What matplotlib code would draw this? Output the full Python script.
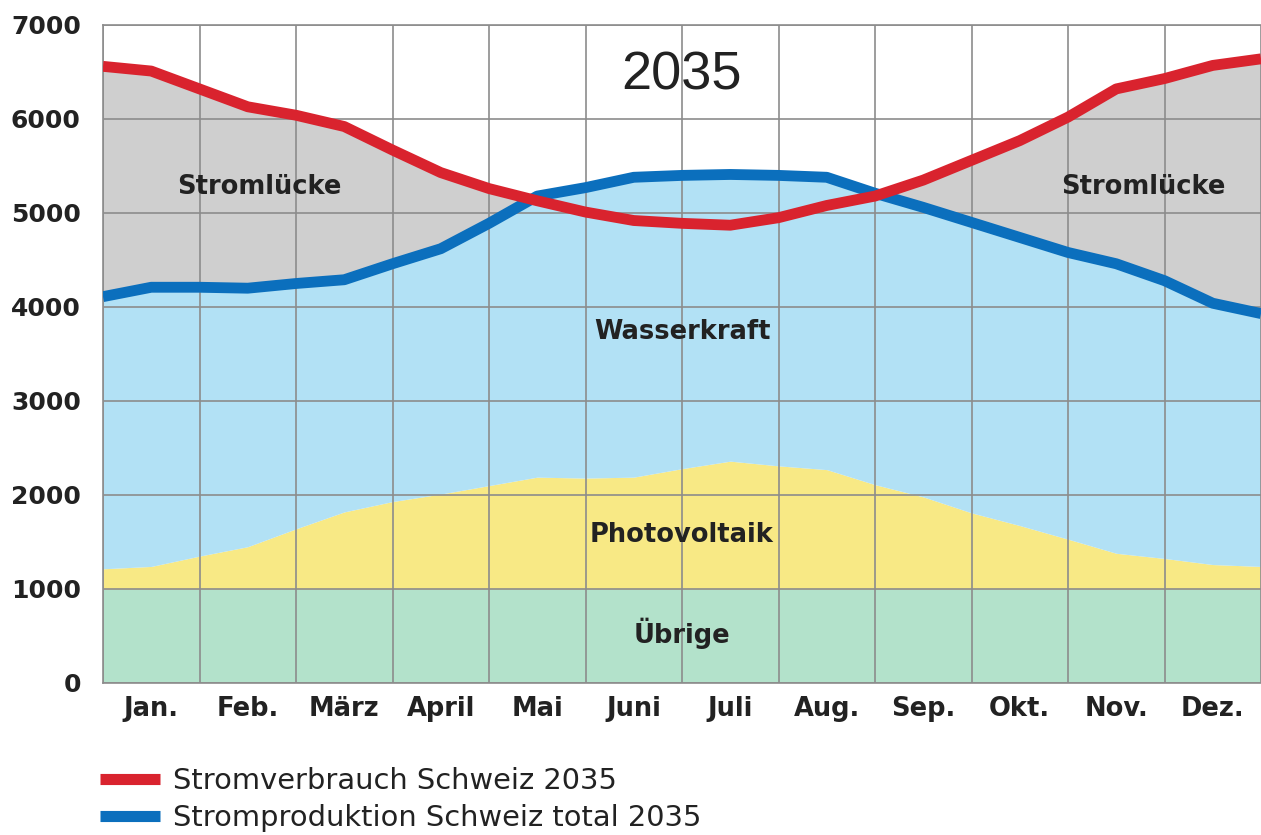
import matplotlib.pyplot as plt
from matplotlib.lines import Line2D

plt.rcParams['font.family'] = ['DejaVu Sans']

# month positions: boundaries and mid-months (0 = start Jan, 12 = end Dez)
x_pos = [0, 0.5, 1, 1.5, 2, 2.5, 3, 3.5, 4, 4.5, 5, 5.5, 6,
         6.5, 7, 7.5, 8, 8.5, 9, 9.5, 10, 10.5, 11, 11.5, 12]
months = ["Jan.", "Feb.", "März", "April", "Mai", "Juni",
          "Juli", "Aug.", "Sep.", "Okt.", "Nov.", "Dez."]

verbrauch = [6560, 6510, 6320, 6130, 6040, 5920, 5670, 5430, 5260, 5130, 5010, 4920, 4890,
             4870, 4950, 5080, 5180, 5350, 5560, 5770, 6020, 6320, 6430, 6570, 6640]
produktion = [4110, 4210, 4210, 4200, 4250, 4290, 4460, 4620, 4890, 5180, 5270, 5380, 5400,
              5410, 5400, 5380, 5210, 5060, 4900, 4740, 4580, 4460, 4280, 4040, 3930]
photovoltaik_top = [1215, 1240, 1350, 1450, 1640, 1820, 1930, 2010, 2100, 2190, 2180, 2190, 2280,
                    2360, 2310, 2270, 2110, 1980, 1810, 1675, 1530, 1380, 1325, 1260, 1240]
uebrige = [1000] * 25

c_red = "#d9232e"
c_blue = "#0b6fbd"
c_water = "#b2e1f5"
c_gap = "#cfcfcf"
c_pv = "#f8e985"
c_other = "#b3e2cb"
c_grid = "#8c8c8c"
c_text = "#222222"

fig = plt.figure(figsize=(12.61, 8.35), dpi=100)
ax = fig.add_axes([103 / 1261, 1 - 683 / 835, 1 - 103 / 1261, (683 - 25) / 835])

ax.fill_between(x_pos, 0, uebrige, color=c_other, lw=0, zorder=1)
ax.fill_between(x_pos, uebrige, photovoltaik_top, color=c_pv, lw=0, zorder=1)
ax.fill_between(x_pos, photovoltaik_top, produktion, color=c_water, lw=0, zorder=1)
ax.fill_between(x_pos, produktion, verbrauch,
                where=[v > p for v, p in zip(verbrauch, produktion)],
                interpolate=True, color=c_gap, lw=0, zorder=1)

ax.plot(x_pos, verbrauch, color=c_red, lw=7.8, solid_joinstyle="round",
        solid_capstyle="butt", zorder=4)
ax.plot(x_pos, produktion, color=c_blue, lw=7.8, solid_joinstyle="round",
        solid_capstyle="butt", zorder=3)

ax.set_xlim(0, 12)
ax.set_ylim(0, 7000)
ax.set_xticks(range(13))
ax.set_xticklabels([])
ax.set_xticks([i + 0.5 for i in range(12)], minor=True)
ax.set_xticklabels(months, minor=True, fontsize=18.5, fontweight="bold", color=c_text)
ax.set_yticks(range(0, 7001, 1000))
ax.set_yticklabels([str(v) for v in range(0, 7001, 1000)],
                   fontsize=18, fontweight="bold", color=c_text)
ax.tick_params(axis="both", which="both", length=0)
ax.tick_params(axis="x", which="minor", pad=9)
ax.tick_params(axis="y", pad=16)

ax.set_axisbelow(False)
ax.grid(True, which="major", color=c_grid, lw=1.2)
for side in ["left", "bottom", "top"]:
    ax.spines[side].set_color(c_grid)
    ax.spines[side].set_linewidth(1.2)
ax.spines["right"].set_visible(False)

# area labels
lbl = dict(fontsize=18.5, fontweight="bold", color=c_text, ha="center", va="center", zorder=5)
ax.text(6.0, 530, "Übrige", **lbl)
ax.text(6.0, 1570, "Photovoltaik", **lbl)
ax.text(6.0, 3730, "Wasserkraft", **lbl)
ax.text(1.62, 5280, "Stromlücke", **lbl)
ax.text(10.78, 5280, "Stromlücke", **lbl)
ax.text(6.0, 6460, "2035", fontsize=39, color=c_text, ha="center", va="center",
        family="Liberation Sans", zorder=5)

handles = [Line2D([], [], color=c_red, lw=8, solid_capstyle="butt"),
           Line2D([], [], color=c_blue, lw=8, solid_capstyle="butt")]
fig.legend(handles, ["Stromverbrauch Schweiz 2035", "Stromproduktion Schweiz total 2035"],
           loc="upper left", bbox_to_anchor=(100 / 1261, 1 - 767 / 835),
           frameon=False, fontsize=20.8, handlelength=2.08, handletextpad=0.45,
           labelspacing=0.3, borderpad=0, borderaxespad=0, labelcolor=c_text)

plt.savefig("out.png", dpi=100)
